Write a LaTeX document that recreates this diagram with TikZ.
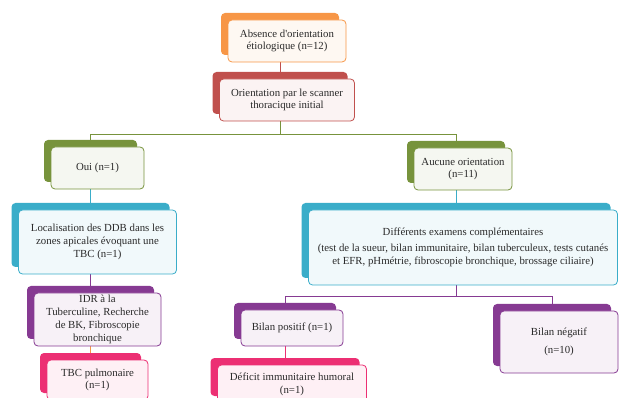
\documentclass[tikz,border=0pt]{standalone}
\usepackage{fontspec}
\setmainfont{Liberation Serif}
\usetikzlibrary{backgrounds}
\definecolor{cOrange}{HTML}{F79646}
\definecolor{cRed}{HTML}{C0504D}
\definecolor{cGreen}{HTML}{77933C}
\definecolor{cBlue}{HTML}{3AADC9}
\definecolor{cPurple}{HTML}{863A92}
\definecolor{cPink}{HTML}{EC2F73}
\definecolor{cText}{HTML}{2A2A2A}
\tikzset{
  sz/.style 2 args={minimum width=#1pt, minimum height=#2pt},
  backbox/.style={fill=#1, rounded corners=4pt, inner sep=0pt},
  frontbox/.style={draw=#1, fill=#1!7, line width=0.8pt, rounded corners=4pt,
    inner sep=0pt, align=center, text=cText,
    font=\fontsize{10.8}{12.8}\selectfont},
  link/.style={draw=#1, line width=0.8pt},
}
\begin{document}
\begin{tikzpicture}[x=1pt,y=-1pt]
\useasboundingbox (0,0) rectangle (619,398);
\clip (0,0) rectangle (619,398);
% level 1
\node[backbox=cOrange, sz={118}{42}] (n1b) at (280,34) {};
\node[frontbox=cOrange, sz={118}{42}] (n1) at (287,41) {Absence d\textquotesingle orientation\\ étiologique (n=12)};
% level 2
\node[backbox=cRed, sz={135}{42}] (n2b) at (280,93) {};
\node[frontbox=cRed, sz={135}{42}] (n2) at (287,100) {Orientation par le scanner\\ thoracique initial};
% level 3
\node[backbox=cGreen, sz={93}{42}] (n3b) at (90.5,161) {};
\node[frontbox=cGreen, sz={93}{42}] (n3) at (97.5,168) {Oui (n=1)};
\node[backbox=cGreen, sz={98}{42}] (n4b) at (456,162) {};
\node[frontbox=cGreen, sz={98}{42}] (n4) at (463,169) {Aucune orientation\\ (n=11)};
% level 4
\node[backbox=cBlue, sz={158}{64}] (n5b) at (90.5,235) {};
\node[frontbox=cBlue, sz={158}{64}] (n5) at (97.5,242) {Localisation des DDB dans les\\ zones apicales évoquant une\\ TBC (n=1)};
\node[backbox=cBlue, sz={309}{75}] (n6b) at (456,240.5) {};
\node[frontbox=cBlue, sz={309}{75}] (n6) at (463,247.5) {Différents examens complémentaires\\[3pt] (test de la sueur, bilan immunitaire, bilan tuberculeux, tests cutanés\\ et EFR, pHmétrie, fibroscopie bronchique, brossage ciliaire)};
% level 5
\node[backbox=cPurple, sz={127}{53}] (n7b) at (90.5,312.5) {};
\node[frontbox=cPurple, sz={127}{53}] (n7) at (97.5,319.5) {IDR à la\\ Tuberculine, Recherche\\ de BK, Fibroscopie\\ bronchique};
\node[backbox=cPurple, sz={102}{36}] (n9b) at (285,321) {};
\node[frontbox=cPurple, sz={102}{36}] (n9) at (292,328) {Bilan positif (n=1)};
\node[backbox=cPurple, sz={118}{62}] (n10b) at (552,335) {};
\node[frontbox=cPurple, sz={118}{62}] (n10) at (559,342) {Bilan négatif\\[5pt] (n=10)};
% level 6
\node[backbox=cPink, sz={101}{40}] (n8b) at (90.5,373) {};
\node[frontbox=cPink, sz={101}{40}] (n8) at (97.5,380) {TBC pulmonaire\\ (n=1)};
\node[backbox=cPink, sz={149}{38}] (n11b) at (285,377) {};
\node[frontbox=cPink, sz={149}{38}] (n11) at (292,384) {Déficit immunitaire humoral\\ (n=1)};
% connectors
\coordinate (j1) at (280,134);
\coordinate (j2) at (456,296);
\begin{scope}[on background layer]
\draw[link=cRed] (n1b.center) -- (n2b.center);
\draw[link=cGreen] (n2b.center) -- (j1) -| (n3b.center);
\draw[link=cGreen] (j1) -| (n4b.center);
\draw[link=cBlue] (n3b.center) -- (n5b.center);
\draw[link=cBlue] (n4b.center) -- (n6b.center);
\draw[link=cPurple] (n5b.center) -- (n7b.center);
\draw[link=cOrange] (n7b.center) -- (n8b.center);
\draw[link=cPurple] (n6b.center) -- (j2) -| (n9b.center);
\draw[link=cPurple] (j2) -| (n10b.center);
\draw[link=cPink] (n9b.center) -- (n11b.center);
\end{scope}
\end{tikzpicture}
\end{document}
